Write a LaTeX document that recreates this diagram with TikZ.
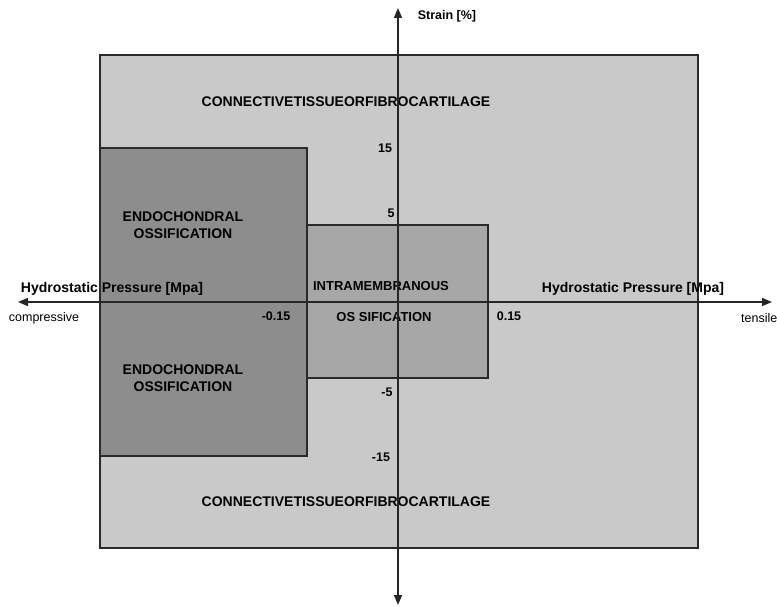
\documentclass[tikz,border=0pt]{standalone}
\usepackage{fontspec}
\setmainfont{Liberation Sans}
\usetikzlibrary{arrows.meta,positioning}
\definecolor{paleregion}{HTML}{C9C9C9}
\definecolor{darkregion}{HTML}{8D8D8D}
\definecolor{midregion}{HTML}{A7A7A7}
\definecolor{edge}{HTML}{2A2A2A}
\tikzset{region/.style={draw=edge,line width=1.6pt,inner sep=0pt,outer sep=0pt,anchor=north west},
  axis/.style={{Triangle[length=10pt,width=8pt]}-{Triangle[length=10pt,width=8pt]},line width=1.4pt,draw=black!85},
  zone/.style={font=\fontsize{14}{17}\selectfont\bfseries,align=center,inner sep=0pt},
  tick/.style={font=\fontsize{12.5}{14}\selectfont\bfseries,inner sep=0pt},
  axislabel/.style={font=\fontsize{14}{16}\selectfont\bfseries,inner sep=0pt},
  sidenote/.style={font=\fontsize{12.5}{14}\selectfont,inner sep=0pt}}

\begin{document}
\begin{tikzpicture}[x=1pt,y=-1pt]
\fill[white] (0,0) rectangle (777,607);
\useasboundingbox (0,0) rectangle (777,607);
% regions
\node[region,fill=paleregion,minimum width=598pt,minimum height=493pt] (tissue) at (100,55) {};
\node[region,fill=darkregion,minimum width=207pt,minimum height=308pt] (endo) at (100,148) {};
\node[region,fill=midregion,minimum width=181pt,minimum height=153pt] (intra) at (307,225) {};
% region labels
\node[zone] (conntop) at (346,102) {CONNECTIVETISSUEORFIBROCARTILAGE};
\node[zone] (connbot) at (346,502) {CONNECTIVETISSUEORFIBROCARTILAGE};
\node[zone] (endotop) at (183,225) {ENDOCHONDRAL\\OSSIFICATION};
\node[zone] (endobot) at (183,378) {ENDOCHONDRAL\\OSSIFICATION};
\node[zone,font=\fontsize{13}{15}\selectfont\bfseries] (intratop) at (381,286) {INTRAMEMBRANOUS};
\node[zone,font=\fontsize{13}{15}\selectfont\bfseries] (intrabot) at (384,317) {OS SIFICATION};
% axis labels
\node[axislabel] (pleftlab) at (112,289) {Hydrostatic Pressure [Mpa]};
\node[axislabel] (prightlab) at (633,289) {Hydrostatic Pressure [Mpa]};
\node[axislabel,font=\fontsize{12.5}{14}\selectfont\bfseries] (strainlab) at (447,16) {Strain [\%]};
\node[sidenote] (comp) at (44,318) {compressive};
\node[sidenote,anchor=west] (tens) at (741,318) {tensile};
% ticks
\node[tick] (tminus) at (276,316) {-0.15};
\node[tick] (tplus) at (509,316) {0.15};
\node[tick] (s15) at (385,148) {15};
\node[tick] (s5) at (391,213) {5};
\node[tick] (sm5) at (387,392) {-5};
\node[tick] (sm15) at (381,457) {-15};
% axes
\coordinate (ptop) at (398,8);
\coordinate (pbot) at (398,605);
\coordinate (pleft) at (18,302);
\coordinate (pright) at (772,302);
\draw[axis] (pleft) -- (pright);
\draw[axis] (pbot) -- (ptop);
\end{tikzpicture}
\end{document}
